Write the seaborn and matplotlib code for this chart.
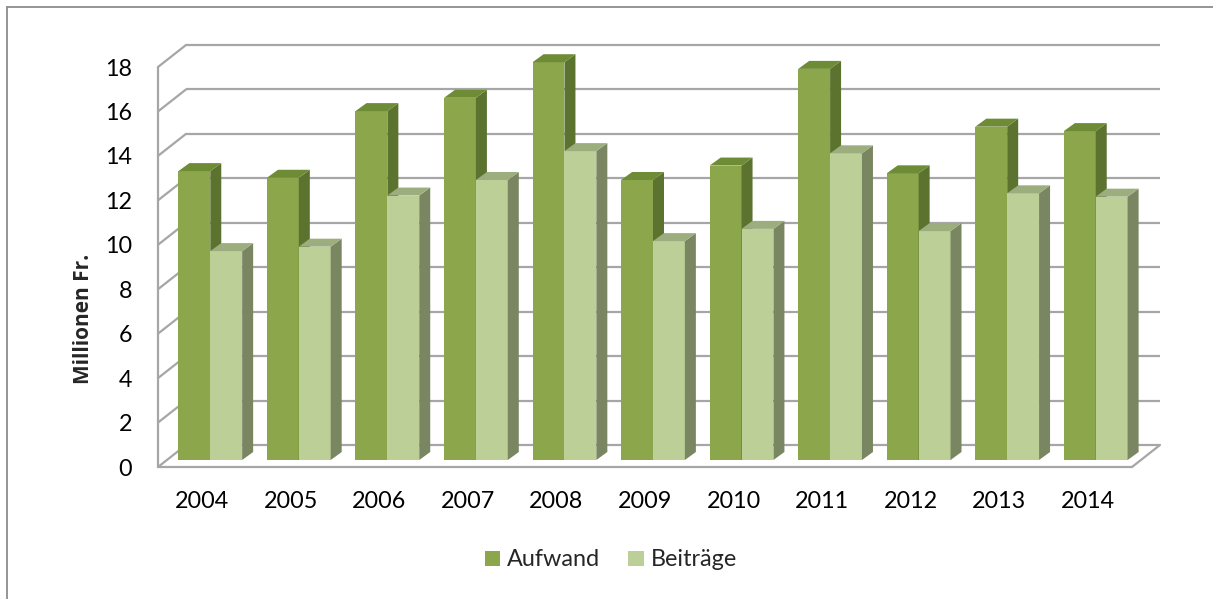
import pandas as pd
import matplotlib.pyplot as plt
import seaborn as sns
from matplotlib.patches import Polygon, Patch
from matplotlib.lines import Line2D

# Werte (Millionen Fr.)
jahre = ["2004", "2005", "2006", "2007", "2008", "2009", "2010", "2011", "2012", "2013", "2014"]
aufwand = [13.0, 12.7, 15.7, 16.3, 17.9, 12.6, 13.25, 17.6, 12.9, 15.0, 14.8]
beitraege = [9.4, 9.6, 11.9, 12.6, 13.9, 9.85, 10.4, 13.8, 10.3, 12.0, 11.85]
serien = ["Aufwand", "Beiträge"]
y_ticks = list(range(0, 19, 2))

df = pd.DataFrame({
    "Jahr": jahre * 2,
    "Serie": ["Aufwand"] * len(jahre) + ["Beiträge"] * len(jahre),
    "Wert": aufwand + beitraege,
})

front = {"Aufwand": "#8ba64b", "Beiträge": "#bbcf96"}
side = {"Aufwand": "#5c7330", "Beiträge": "#7a8661"}
top = {"Aufwand": "#6e8b36", "Beiträge": "#9dae7e"}
grid_col = "#a6a6a6"

sns.set_style("white")
plt.rcParams["font.family"] = ["Lato", "DejaVu Sans"]
fs = 16.8

W, H = 1213, 599
fig = plt.figure(figsize=(W / 100, H / 100), dpi=100)
# Achse = vordere Ebene des 3D-Diagramms
ax = fig.add_axes([158 / W, 132 / H, 974 / W, 400 / H])

sns.barplot(data=df, x="Jahr", y="Wert", hue="Serie", hue_order=serien,
            palette=front, width=0.72, gap=0, legend=False, ax=ax,
            errorbar=None, saturation=1)

ax.set_xlim(-0.5, 10.5)
ax.set_ylim(0, 18)

# Pixel -> Dateneinheiten
ppx = 974 / 11.0
ppy = 400 / 18.0
def px(dx, dy):
    return dx / ppx, dy / ppy

bar_sx, bar_sy = px(8, 7)      # Balkenebene hinter der Vorderkante
dep_x, dep_y = px(11, 8)       # Balkentiefe
back_sx, back_sy = px(28, 22)  # Rückwand

n = len(jahre)
for i, p in enumerate(ax.patches):
    serie = serien[i // n]
    z = 2 if serie == "Aufwand" else 3
    x0 = p.get_x() + bar_sx
    w = p.get_width()
    h = p.get_height()
    p.set_x(x0)
    p.set_y(bar_sy)
    p.set_edgecolor("none")
    p.set_zorder(z)
    p.set_clip_on(False)
    y1 = bar_sy + h
    ax.add_patch(Polygon([(x0 + w, bar_sy), (x0 + w, y1), (x0 + w + dep_x, y1 + dep_y),
                          (x0 + w + dep_x, bar_sy + dep_y)], closed=True,
                         facecolor=side[serie], edgecolor="none", zorder=z, clip_on=False))
    ax.add_patch(Polygon([(x0, y1), (x0 + w, y1), (x0 + w + dep_x, y1 + dep_y),
                          (x0 + dep_x, y1 + dep_y)], closed=True,
                         facecolor=top[serie], edgecolor="none", zorder=z, clip_on=False))

# Rückwand, Seitenwand und Boden
lw = 1.6
for v in y_ticks:
    ax.plot([-0.5 + back_sx, 10.5 + back_sx], [v + back_sy, v + back_sy],
            color=grid_col, lw=lw, zorder=1, clip_on=False, solid_capstyle="butt")
    ax.plot([-0.5, -0.5 + back_sx], [v, v + back_sy],
            color=grid_col, lw=lw, zorder=1, clip_on=False)
ax.plot([-0.5, -0.5], [0, 18], color=grid_col, lw=lw, zorder=1, clip_on=False)
ax.plot([-0.5, 10.5], [0, 0], color=grid_col, lw=lw, zorder=4, clip_on=False)
ax.plot([10.5, 10.5 + back_sx], [0, back_sy], color=grid_col, lw=lw, zorder=4, clip_on=False)

for s in ax.spines.values():
    s.set_visible(False)

ax.set_yticks(y_ticks)
ax.tick_params(axis="both", length=0, labelsize=fs, colors="black")
ax.tick_params(axis="y", pad=18.5)
ax.tick_params(axis="x", pad=17)
ax.set_xlabel("")
ax.set_ylabel("Millionen Fr.", fontsize=15, fontweight="bold",
              family=["Open Sans", "DejaVu Sans"])
ax.yaxis.set_label_coords(-0.066, 0.37)

handles = [Patch(facecolor=front[s], edgecolor="none", label=s) for s in serien]
fig.legend(handles=handles, loc="center", bbox_to_anchor=(611 / W, 39 / H), ncol=2,
           frameon=False, fontsize=fs, handlelength=0.65, handleheight=0.65,
           handletextpad=0.3, columnspacing=1.2)

# Rahmen des Diagrammbereichs
border = "#8c8c8c"
fig.add_artist(Line2D([7 / W, 7 / W], [0, 1 - 7 / H], transform=fig.transFigure,
                      color=border, lw=1.3))
fig.add_artist(Line2D([7 / W, 1], [1 - 7 / H, 1 - 7 / H], transform=fig.transFigure,
                      color=border, lw=1.3))

fig.savefig("out.png", dpi=100, facecolor="white")
